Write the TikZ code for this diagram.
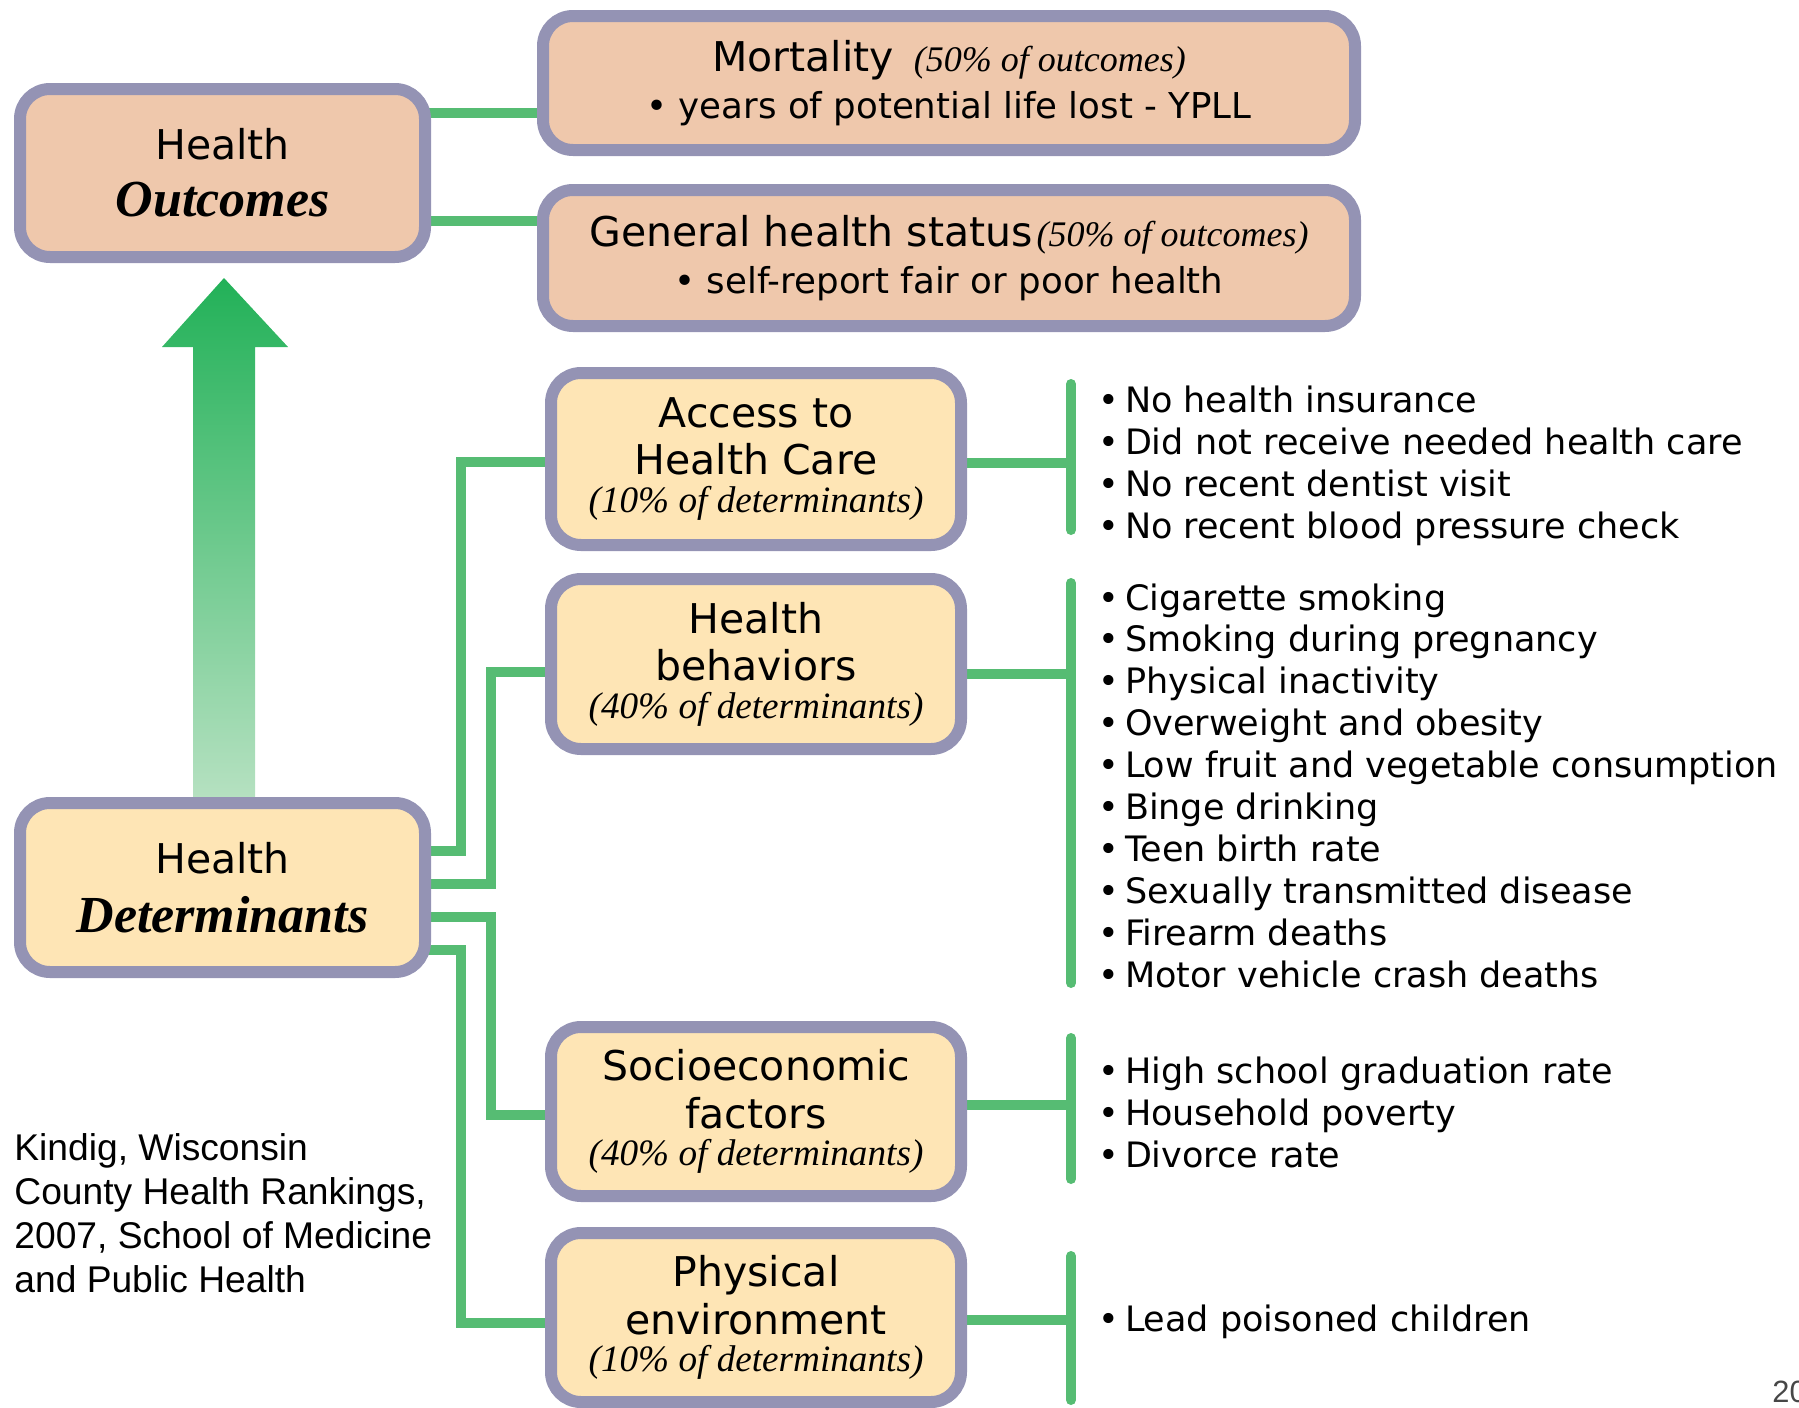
\documentclass[tikz,border=0pt]{standalone}
\usepackage{fontspec}
\setmainfont{DejaVu Sans}
\newfontfamily\tmsfont{Liberation Serif}
\newfontfamily\arlfont{Liberation Sans}
\usetikzlibrary{backgrounds}
\definecolor{linkgreen}{RGB}{86,188,115}
\definecolor{bordc}{RGB}{148,147,180}
\definecolor{peach}{RGB}{239,200,172}
\definecolor{cream}{RGB}{254,229,181}
\definecolor{arrtop}{RGB}{34,177,88}
\definecolor{arrbot}{RGB}{182,225,193}
\newcommand\pcto{\tmsfont\itshape\fontsize{18}{20}\selectfont}
\newcommand\pctd{\tmsfont\itshape\fontsize{18.6}{20}\selectfont}
\newcommand\bigit{\tmsfont\bfseries\itshape\fontsize{26}{28}\selectfont}
\newcommand\subl{\fontsize{17.8}{20}\selectfont}
\begin{document}
\begin{tikzpicture}[x=0.5pt,y=-0.5pt,
  hbox/.style={draw=bordc, line width=6pt, rounded corners=15pt, align=center, inner sep=0pt, outer sep=0pt},
  outbox/.style={hbox, fill=peach},
  detbox/.style={hbox, fill=cream},
  link/.style={draw=linkgreen, line width=5pt},
  brk/.style={link, line cap=round},
  item/.style={anchor=base west, inner sep=0pt, font=\fontsize{17.5}{21}\selectfont},
  ttl/.style={font=\fontsize{20.5}{23.75}\selectfont},
]
\useasboundingbox (0,0) rectangle (1799,1408);
\clip (0,0) rectangle (1799,1408);

% outcome boxes
\node[outbox, minimum width=202.5pt, minimum height=84pt, font=\fontsize{20.5}{28.5}\selectfont] (out) at (222.5,173) {Health\\{\bigit Outcomes}};
\node[outbox, minimum width=406pt, minimum height=67pt, font=\fontsize{20.5}{23.5}\selectfont] (mort) at (949,83)
  {Mortality\hspace{10pt}{\pcto (50\% of outcomes)}\\{\subl • years of potential life lost - YPLL}};
\node[outbox, minimum width=406pt, minimum height=68pt, font=\fontsize{20.5}{23.5}\selectfont] (gen) at (949,258)
  {General health status\hspace{2pt}{\pcto (50\% of outcomes)}\\{\subl • self-report fair or poor health}};

% determinant boxes
\node[detbox, minimum width=202.5pt, minimum height=84.5pt, font=\fontsize{20.5}{29.5}\selectfont] (det) at (222.5,887.5) {Health\\{\bigit Determinants}};
\node[detbox, minimum width=205pt, minimum height=86pt, ttl] (acc) at (756,459) {Access to\\Health Care\\[-5pt]{\pctd (10\% of determinants)}};
\node[detbox, minimum width=205pt, minimum height=85pt, ttl] (beh) at (756,664) {Health\\behaviors\\[-5pt]{\pctd (40\% of determinants)}};
\node[detbox, minimum width=205pt, minimum height=84.5pt, ttl] (soc) at (756,1111.5) {Socioeconomic\\factors\\[-5pt]{\pctd (40\% of determinants)}};
\node[detbox, minimum width=205pt, minimum height=84.5pt, ttl] (phy) at (756,1317.5) {Physical\\environment\\[-5pt]{\pctd (10\% of determinants)}};

% citation and page number
\node[anchor=north west, inner sep=0pt, align=left, font=\arlfont\fontsize{18.6}{22}\selectfont] (cite) at (14,1133)
  {Kindig, Wisconsin\\County Health Rankings,\\2007, School of Medicine\\and Public Health};
\node[anchor=base west, inner sep=0pt, text=black!72, font=\arlfont\fontsize{15.4}{18}\selectfont] (pg) at (1772,1402) {20};

% list items
\foreach \t [count=\i from 0] in {No health insurance,Did not receive needed health care,No recent dentist visit,No recent blood pressure check}
  \node[item] (a\i) at (1098,{412+42*\i}) {•\hspace{3pt}\t};
\foreach \t [count=\i from 0] in {Cigarette smoking,Smoking during pregnancy,Physical inactivity,Overweight and obesity,Low fruit and vegetable consumption,Binge drinking,Teen birth rate,Sexually transmitted disease,Firearm deaths,Motor vehicle crash deaths}
  \node[item] (b\i) at (1098,{610+41.9*\i}) {•\hspace{3pt}\t};
\foreach \t [count=\i from 0] in {High school graduation rate,Household poverty,Divorce rate}
  \node[item] (s\i) at (1098,{1083+42*\i}) {•\hspace{3pt}\t};
\node[item] (p0) at (1098,1331) {•\hspace{3pt}Lead poisoned children};

% junction coordinates
\coordinate (c1) at (480,113);
\coordinate (c2) at (480,221);
\coordinate (j1) at (461,851); \coordinate (k1) at (461,462);
\coordinate (j2) at (491,884); \coordinate (k2) at (491,672);
\coordinate (j3) at (491,917); \coordinate (k3) at (491,1115);
\coordinate (j4) at (461,950); \coordinate (k4) at (461,1323);
\coordinate (ra) at (1071,463); \coordinate (rb) at (1071,674);
\coordinate (rc) at (1071,1105); \coordinate (rd) at (1071,1320);
\coordinate (ba1) at (1071,384);  \coordinate (ba2) at (1071,530);
\coordinate (bb1) at (1071,583);  \coordinate (bb2) at (1071,983);
\coordinate (bc1) at (1071,1038); \coordinate (bc2) at (1071,1179);
\coordinate (bd1) at (1071,1256); \coordinate (bd2) at (1071,1400);

\begin{pgfonlayer}{background}
  % big arrow
  \shade[top color=arrtop, bottom color=arrbot]
    (193,800) -- (193,347) -- (162,347) -- (224,278) -- (288,347) -- (255,347) -- (255,800) -- cycle;
  % outcomes connectors
  \draw[link] (out.center |- c1) -- (mort.center |- c1);
  \draw[link] (out.center |- c2) -- (gen.center |- c2);
  % determinants connectors
  \draw[link] (det.center |- j1) -- (j1) -- (k1) -- (acc.center |- k1);
  \draw[link] (det.center |- j2) -- (j2) -- (k2) -- (beh.center |- k2);
  \draw[link] (det.center |- j3) -- (j3) -- (k3) -- (soc.center |- k3);
  \draw[link] (det.center |- j4) -- (j4) -- (k4) -- (phy.center |- k4);
  % right connectors and brackets
  \draw[link] (acc.center |- ra) -- (ra);
  \draw[link] (beh.center |- rb) -- (rb);
  \draw[link] (soc.center |- rc) -- (rc);
  \draw[link] (phy.center |- rd) -- (rd);
  \draw[brk] (ba1) -- (ba2);
  \draw[brk] (bb1) -- (bb2);
  \draw[brk] (bc1) -- (bc2);
  \draw[brk] (bd1) -- (bd2);
\end{pgfonlayer}
\end{tikzpicture}
\end{document}
